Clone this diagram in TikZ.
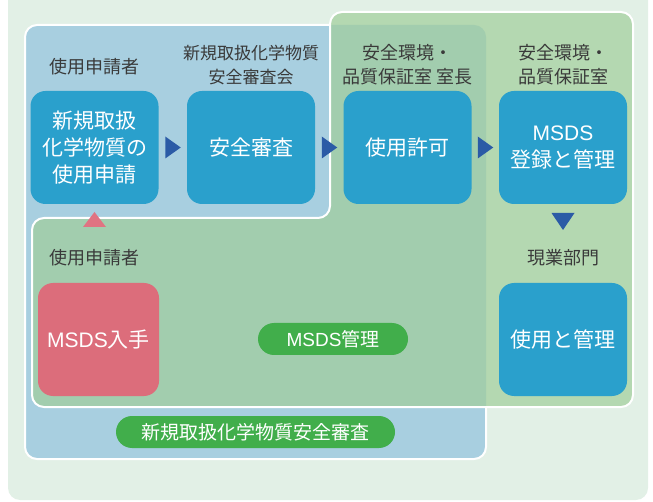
\documentclass[tikz,border=0pt]{standalone}
\usepackage{fontspec}
\setmainfont{Noto Sans CJK JP}
\newfontfamily\latinfont{Liberation Sans}
\usetikzlibrary{calc}
\definecolor{bgc}{HTML}{E2F0E6}
\definecolor{bluereg}{HTML}{A8CFE0}
\definecolor{greenbg}{HTML}{B4D8B1}
\definecolor{greenblue}{HTML}{A2CDAE}
\definecolor{boxc}{HTML}{2AA0CC}
\definecolor{pinkc}{HTML}{DC6D7B}
\definecolor{arrowc}{HTML}{2B5BA6}
\definecolor{pinktri}{HTML}{E07382}
\definecolor{pillc}{HTML}{41AE4B}
\definecolor{labelc}{HTML}{3A3A3A}
\tikzset{
  stepbox/.style={fill=boxc, rounded corners=15pt, minimum width=128pt, minimum height=113pt,
    inner sep=0pt, text=white, align=center, font=\fontsize{21}{27}\selectfont},
  pinkbox/.style={stepbox, fill=pinkc, minimum width=121pt},
  lbl/.style={text=labelc, align=center, inner sep=0pt, font=\fontsize{18}{24}\selectfont},
  pill/.style={fill=pillc, rounded corners=16pt, minimum height=32pt, inner sep=0pt,
    text=white, font=\fontsize{19}{24}\selectfont},
  tri/.style={fill=arrowc}
}
\begin{document}
\begin{tikzpicture}[x=1pt,y=-1pt]
\useasboundingbox (0,0) rectangle (653,502);
% background
\fill[bgc, rounded corners=12pt] (8,-20) rectangle (648,500);
% blue region
\path[fill=bluereg, draw=white, line width=2pt, rounded corners=12pt] (25,25) rectangle (486,459);
% green region
\fill[greenbg, rounded corners=12pt] (32,218) -- (330,218) -- (330,12) -- (633,12) -- (633,407) -- (32,407) -- cycle;
\begin{scope}
  \clip[rounded corners=12pt] (25,25) rectangle (486,459);
  \fill[greenblue, rounded corners=12pt] (32,218) -- (330,218) -- (330,12) -- (633,12) -- (633,407) -- (32,407) -- cycle;
\end{scope}
\draw[white, line width=2pt, rounded corners=12pt] (32,218) -- (330,218) -- (330,12) -- (633,12) -- (633,407) -- (32,407) -- cycle;

% boxes
\node[stepbox] (b1) at (94.5,147.5) {新規取扱\\化学物質の\\使用申請};
\node[stepbox] (b2) at (251,147.5) {安全審査};
\node[stepbox] (b3) at (407.5,147.5) {使用許可};
\node[stepbox] (b4) at (563,147.5) {{\latinfont MSDS}\\登録と管理};
\node[stepbox] (b5) at (563,339.5) {使用と管理};
\node[pinkbox] (p1) at (98.5,339.5) {{\latinfont MSDS}入手};

% labels
\node[lbl] (l1) at (94,67) {使用申請者};
\node[lbl] (l2) at (251,65) {\fontsize{17}{24}\selectfont 新規取扱化学物質\\\fontsize{17}{24}\selectfont 安全審査会};
\node[lbl] (l3) at (407.5,65) {安全環境・\\品質保証室 室長};
\node[lbl] (l4) at (563,65) {安全環境・\\品質保証室};
\node[lbl] (l5) at (94,258) {使用申請者};
\node[lbl] (l6) at (563,258) {現業部門};

% pills
\node[pill, minimum width=150pt] (m1) at (333,339) {{\latinfont MSDS}管理};
\node[pill, minimum width=279pt] (m2) at (255.5,432) {新規取扱化学物質安全審査};

% arrows
\coordinate (a1) at ($(b1.east)!0.5!(b2.west)$);
\coordinate (a2) at ($(b2.east)!0.5!(b3.west)$);
\coordinate (a3) at ($(b3.east)!0.5!(b4.west)$);
\fill[tri] (a1) ++(-7.5,-11) -- ++(15.5,11) -- ++(-15.5,11) -- cycle;
\fill[tri] (a2) ++(-7.5,-11) -- ++(15.5,11) -- ++(-15.5,11) -- cycle;
\fill[tri] (a3) ++(-7.5,-11) -- ++(15.5,11) -- ++(-15.5,11) -- cycle;
\coordinate (a4) at (563,221.5);
\fill[tri] (a4) ++(-11.5,-8.5) -- ++(23,0) -- ++(-11.5,17) -- cycle;
\coordinate (a5) at (94.5,219.5);
\fill[pinktri] (a5) ++(-11.5,7.5) -- ++(23,0) -- ++(-11.5,-15) -- cycle;
\end{tikzpicture}
\end{document}
